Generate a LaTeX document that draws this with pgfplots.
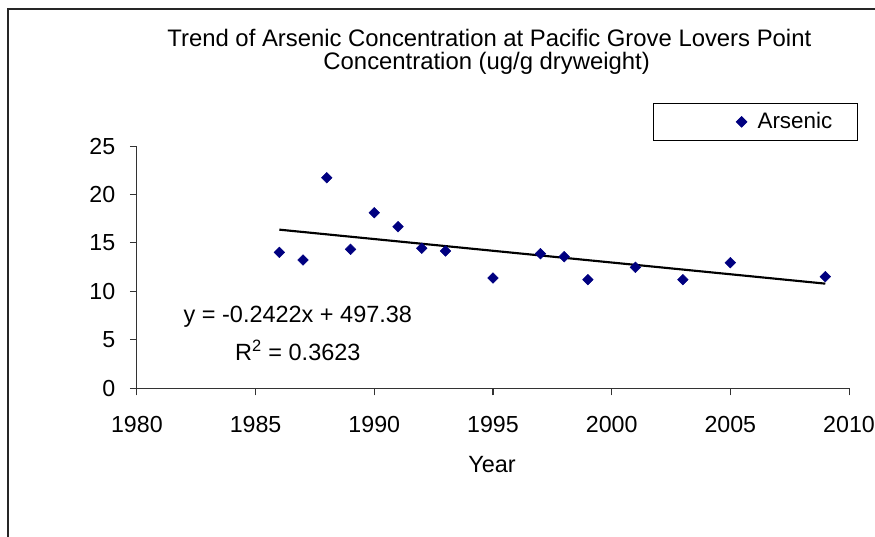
\documentclass[border=0pt]{standalone}
\usepackage{fontspec}
\setmainfont{Liberation Sans}
\usepackage{pgfplots}
\pgfplotsset{compat=1.18}
\definecolor{marknavy}{RGB}{0,0,128}
\begin{document}
\begin{tikzpicture}
\useasboundingbox (0,0) rectangle (656.25pt,402pt);
\begin{scope}
\clip (0,0) rectangle (656.25pt,402pt);
\draw[line width=1.5pt,black!85] (6pt,-10pt) -- (6pt,395.25pt) -- (700pt,395.25pt);
\end{scope}
\node[anchor=base,inner sep=0pt,font=\fontsize{17.9}{20}\selectfont] at (367pt,366.8pt) {Trend of Arsenic Concentration at Pacific Grove Lovers Point};
\node[anchor=base,inner sep=0pt,font=\fontsize{17.9}{20}\selectfont] at (365pt,350.2pt) {Concentration (ug/g dryweight)};
\node[anchor=base,inner sep=0pt,font=\fontsize{17.6}{20}\selectfont] at (369pt,48pt) {Year};
\begin{axis}[
  at={(102.675pt,110.775pt)}, anchor=south west,
  scale only axis, width=534.1pt, height=181.7pt,
  xmin=1980, xmax=2010, ymin=0, ymax=25,
  axis x line=bottom, axis y line=left,
  axis line style={-, line width=0.8pt, black!80},
  tick style={line width=0.8pt, black!80},
  tick align=outside, major tick length=5.25pt,
  xtick={1980,1985,...,2010}, ytick={0,5,...,25},
  minor tick num=0,
  /pgf/number format/1000 sep={},
  /pgf/number format/assume math mode=true,
  tick label style={font=\fontsize{17.4}{19}\selectfont},
  xticklabel style={yshift=-12.5pt},
  yticklabel style={xshift=-7.5pt},
  clip=false,
  legend style={at={(1.0126,1.1775)}, anchor=north east, draw=black, line width=0.6pt,
    font=\fontsize{16.8}{20}\selectfont, inner xsep=2pt, inner ysep=5pt},
  legend image code/.code={\path[draw=none,fill=none] (0pt,-5pt) rectangle (74pt,5pt); \draw[#1] plot coordinates {(64pt,0pt)};},
]
\addplot[only marks, mark=square*, mark size=2.8pt, mark options={rotate=45, fill=marknavy, draw=marknavy}, color=marknavy]
coordinates {
(1986,14.03) (1987,13.24) (1988,21.73) (1989,14.34) (1990,18.12)
(1991,16.68) (1992,14.45) (1993,14.17) (1995,11.38) (1997,13.89)
(1998,13.58) (1999,11.21) (2001,12.49) (2003,11.21) (2005,12.96)
(2009,11.52)
};
\addlegendentry{Arsenic\hspace*{15pt}}
\addplot[black, line width=1.6pt, forget plot] coordinates {(1986,16.3708) (2009,10.8002)};
\node[anchor=base, font=\fontsize{17.6}{20}\selectfont, inner sep=0pt] at (axis cs:1986.78,6.74) {y = -0.2422x + 497.38};
\node[anchor=base, font=\fontsize{17.6}{20}\selectfont, inner sep=0pt] at (axis cs:1986.78,2.92) {R\textsuperscript{2} = 0.3623};
\end{axis}
\end{tikzpicture}
\end{document}
